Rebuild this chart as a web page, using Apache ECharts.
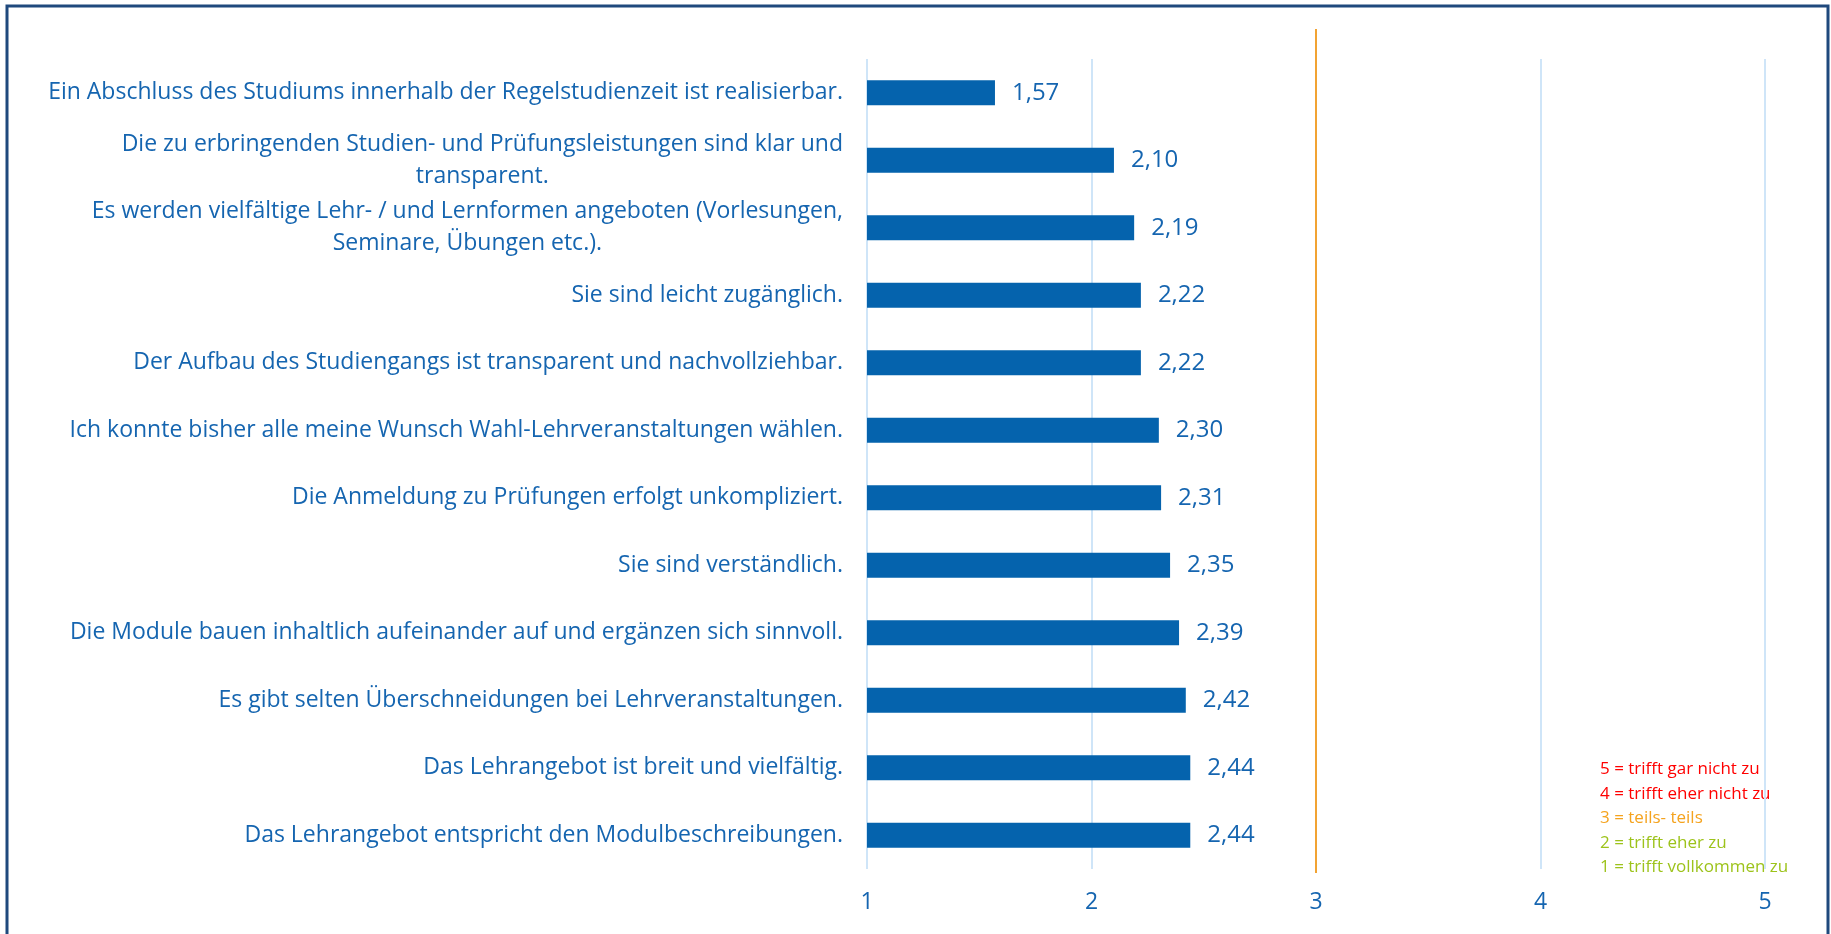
<!DOCTYPE html>
<html>
<head>
<meta charset="utf-8">
<script src="https://cdn.jsdelivr.net/npm/echarts@6/dist/echarts.min.js"></script>
<style>
  html, body { margin: 0; padding: 0; background: #fff; }
  #main { width: 1831px; height: 934px; }
</style>
</head>
<body>
<div id="main"></div>
<script>
  // Fragen (von oben nach unten)
  var categories = [
    'Ein Abschluss des Studiums innerhalb der Regelstudienzeit ist realisierbar.',
    'Die zu erbringenden Studien- und Prüfungsleistungen sind klar und\ntransparent.',
    'Es werden vielfältige Lehr- / und Lernformen angeboten (Vorlesungen,\nSeminare, Übungen etc.).',
    'Sie sind leicht zugänglich.',
    'Der Aufbau des Studiengangs ist transparent und nachvollziehbar.',
    'Ich konnte bisher alle meine Wunsch Wahl-Lehrveranstaltungen wählen.',
    'Die Anmeldung zu Prüfungen erfolgt unkompliziert.',
    'Sie sind verständlich.',
    'Die Module bauen inhaltlich aufeinander auf und ergänzen sich sinnvoll.',
    'Es gibt selten Überschneidungen bei Lehrveranstaltungen.',
    'Das Lehrangebot ist breit und vielfältig.',
    'Das Lehrangebot entspricht den Modulbeschreibungen.'
  ];
  var values = [1.57, 2.10, 2.19, 2.22, 2.22, 2.30, 2.31, 2.35, 2.39, 2.42, 2.44, 2.44];
  var scaleText = ['5 = trifft gar nicht zu', '4 = trifft eher nicht zu', '3 = teils- teils', '2 = trifft eher zu', '1 = trifft vollkommen zu'];
  var scaleColors = ['#ff0000', '#ff0000', '#f5a31e', '#9dc31b', '#9dc31b'];

  var blue = '#0563ad';
  var textBlue = '#1565b0';
  var font = '"Open Sans", sans-serif';

  var myChart = echarts.init(document.getElementById('main'));

  var legendItems = scaleText.map(function (t, i) {
    return {
      type: 'text',
      left: 1600,
      top: 761 + i * 24.5,
      style: { text: t, fill: scaleColors[i], font: '17px ' + font }
    };
  });

  var option = {
    animation: false,
    grid: { left: 867, right: 66, top: 59, bottom: 65 },
    xAxis: {
      type: 'value',
      min: 1,
      max: 5,
      interval: 1,
      axisLine: { show: false },
      axisTick: { show: false },
      axisLabel: { color: textBlue, fontSize: 23, fontFamily: font, margin: 22 },
      splitLine: { lineStyle: { color: '#cfe5f8', width: 2 } }
    },
    yAxis: {
      type: 'category',
      inverse: true,
      data: categories,
      axisLine: { show: false },
      axisTick: { show: false },
      axisLabel: {
        margin: 24,
        formatter: function (v) {
          return v.split('\n').map(function (l) { return '{c|' + l + '}'; }).join('\n');
        },
        rich: {
          c: { align: 'center', color: textBlue, fontSize: 23, fontFamily: font, lineHeight: 32 }
        }
      }
    },
    series: [{
      type: 'bar',
      data: values,
      barWidth: '37%',
      itemStyle: { color: blue },
      label: {
        show: true,
        position: 'right',
        distance: 17,
        color: textBlue,
        fontSize: 24,
        fontFamily: font,
        formatter: function (p) { return p.value.toFixed(2).replace('.', ','); }
      }
    }],
    graphic: [{
      type: 'rect',
      shape: { x: 7, y: 6, width: 1821, height: 960 },
      style: { fill: 'none', stroke: '#1f497d', lineWidth: 3 },
      silent: true
    }].concat(legendItems)
  };

  myChart.setOption(option);

  // orangefarbene Linie bei 3 (teils-teils), reicht über das Raster hinaus
  var x3 = myChart.convertToPixel({ xAxisIndex: 0 }, 3);
  myChart.setOption({
    graphic: option.graphic.concat([{
      type: 'line',
      z: 100,
      shape: { x1: x3, y1: 29, x2: x3, y2: 873 },
      style: { stroke: '#f2a332', lineWidth: 2 },
      silent: true
    }])
  });
</script>
</body>
</html>
